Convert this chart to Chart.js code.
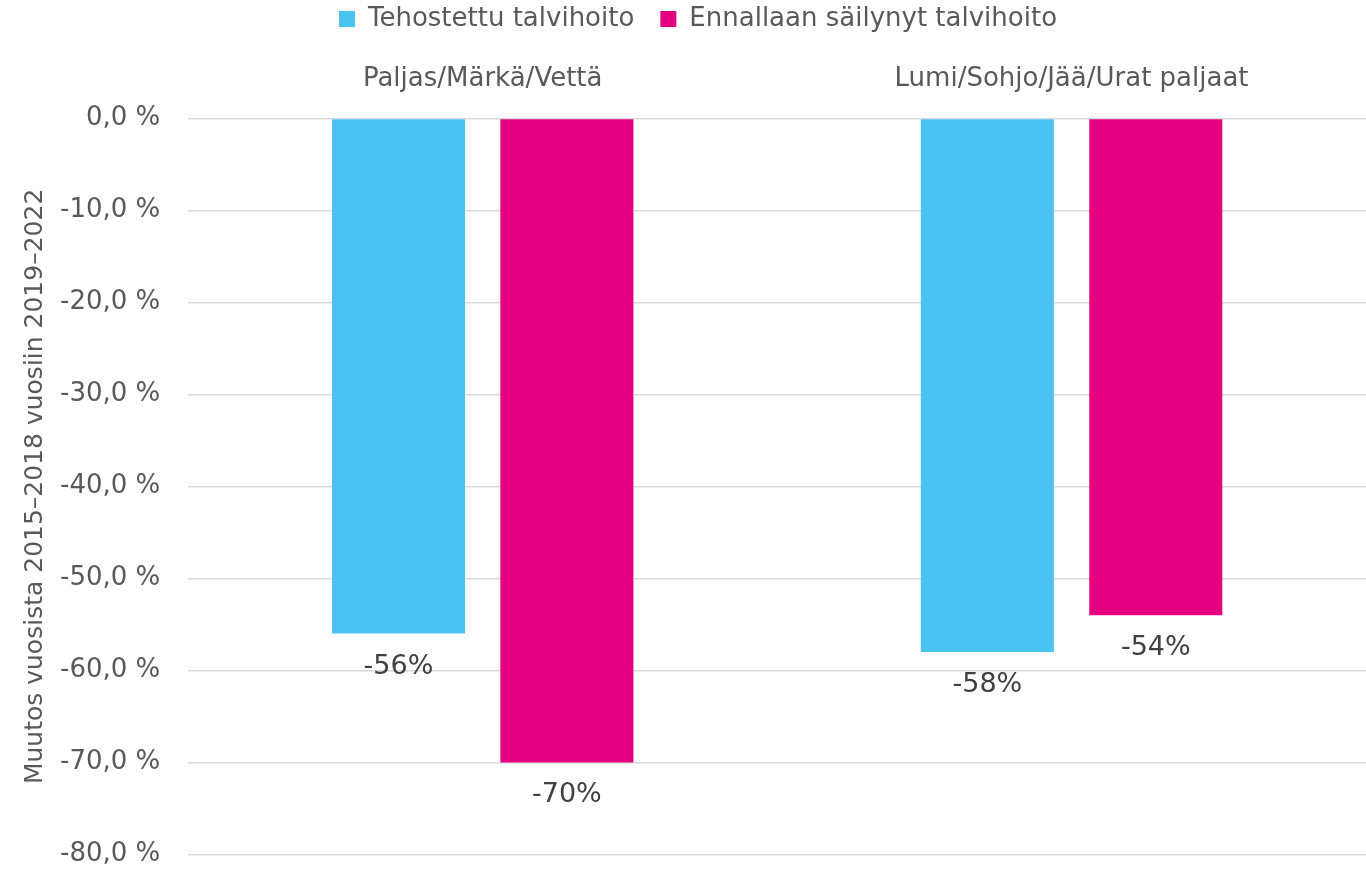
<!DOCTYPE html>
<html>
<head>
<meta charset="utf-8">
<script src="https://cdn.jsdelivr.net/npm/chart.js@4/dist/chart.umd.min.js"></script>
<style>
  html, body { margin: 0; padding: 0; background: #fff; }
  #wrap { width: 1366px; height: 870px; }
</style>
</head>
<body>
<div id="wrap"><canvas id="chart1"></canvas></div>
<script>
// kategoriat ja sarjat
const categories = ['Paljas/Märkä/Vettä', 'Lumi/Sohjo/Jää/Urat paljaat'];
const seriesNames = ['Tehostettu talvihoito', 'Ennallaan säilynyt talvihoito'];
const tehostettu = [-56, -58];
const ennallaan = [-70, -54];
const seriesColors = ['#4BC3F0', '#E4007F'];

const fontFamily = '"DejaVu Sans", Verdana, sans-serif';
const fontSize = 26;

// arvot palkkien alle
const valueLabels = {
    id: 'valueLabels',
    afterDatasetsDraw(chart) {
        const ctx = chart.ctx;
        ctx.save();
        ctx.font = '27px ' + fontFamily;
        ctx.fillStyle = '#404040';
        ctx.textAlign = 'center';
        ctx.textBaseline = 'middle';
        chart.data.datasets.forEach((ds, i) => {
            chart.getDatasetMeta(i).data.forEach((bar, j) => {
                ctx.fillText(ds.data[j] + '%', bar.x, bar.y + 33);
            });
        });
        ctx.restore();
    }
};

const ctx1 = document.getElementById('chart1').getContext('2d');
const chart1 = new Chart(ctx1, {
    type: 'bar',
    data: {
        labels: categories,
        datasets: [{
            label: seriesNames[0],
            data: tehostettu,
            backgroundColor: seriesColors[0],
            categoryPercentage: 0.572,
            barPercentage: 0.79
        }, {
            label: seriesNames[1],
            data: ennallaan,
            backgroundColor: seriesColors[1],
            categoryPercentage: 0.572,
            barPercentage: 0.79
        }]
    },
    options: {
        responsive: true,
        maintainAspectRatio: false,
        animation: false,
        layout: { padding: { top: -20, right: 0, bottom: 0, left: 30 } },
        plugins: {
            legend: {
                position: 'top',
                labels: {
                    boxWidth: 16,
                    boxHeight: 16,
                    padding: 26,
                    color: '#595959',
                    font: { family: fontFamily, size: fontSize }
                }
            },
            tooltip: { enabled: false }
        },
        scales: {
            x: {
                position: 'top',
                grid: { display: false },
                border: { display: false },
                ticks: {
                    color: '#595959',
                    padding: 16,
                    font: { family: fontFamily, size: fontSize }
                },
                // tyhjä otsikko vain väliä varten
                title: {
                    display: true,
                    text: ' ',
                    font: { size: 1 },
                    padding: { top: 4, bottom: 0 }
                }
            },
            y: {
                min: -80,
                max: 0,
                grid: {
                    color: '#d9d9d9',
                    lineWidth: 1.5,
                    drawTicks: true,
                    tickLength: 28,
                    tickColor: 'rgba(0,0,0,0)'
                },
                border: { display: false },
                ticks: {
                    stepSize: 10,
                    padding: 0,
                    color: '#595959',
                    font: { family: fontFamily, size: fontSize },
                    callback: v => (v === 0 ? 0 : v).toFixed(1).replace('.', ',') + ' %'
                },
                title: {
                    display: true,
                    text: 'Muutos vuosista 2015–2018 vuosiin 2019–2022',
                    color: '#595959',
                    font: { family: fontFamily, size: 25 },
                    padding: { top: -10, bottom: 10 }
                }
            }
        }
    },
    plugins: [valueLabels]
});
</script>
</body>
</html>
